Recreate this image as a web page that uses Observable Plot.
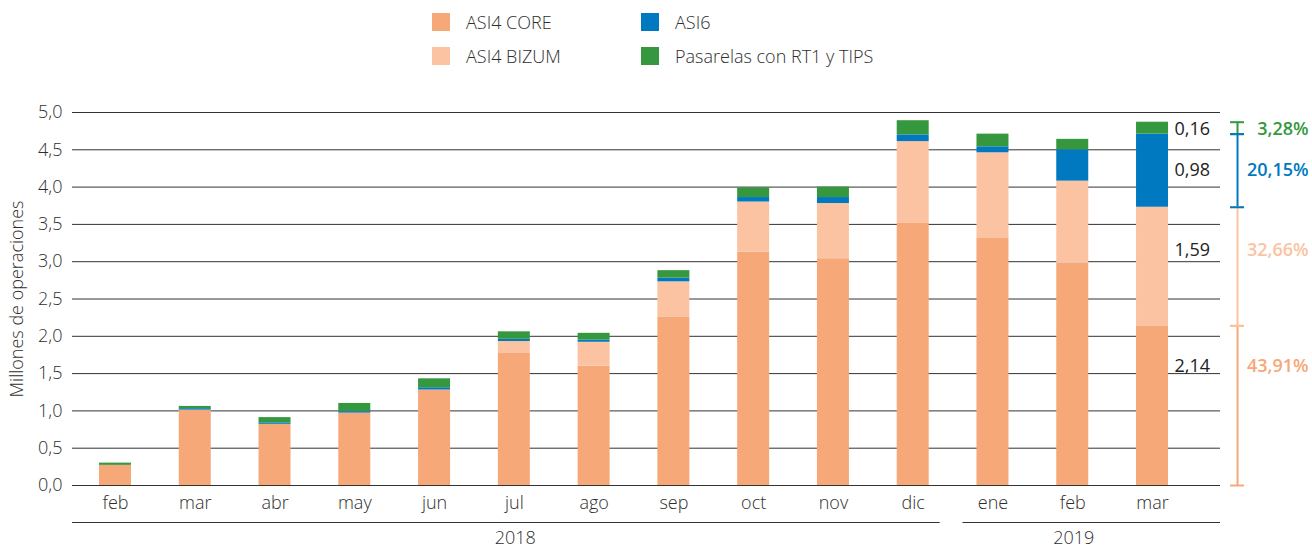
<!DOCTYPE html>
<html><head><meta charset="utf-8">
<script src="https://cdn.jsdelivr.net/npm/d3@7"></script>
<script src="https://cdn.jsdelivr.net/npm/@observablehq/plot@0.6"></script>
<style>
body{margin:0;background:#fff;font-family:"Open Sans",sans-serif;}
#wrap{position:relative;width:1312px;height:548px;overflow:hidden;}
#chart{position:absolute;left:0;top:0;}
#legend{position:absolute;left:432px;top:5px;display:grid;grid-template-rows:repeat(2,34px);grid-auto-flow:column;grid-template-columns:209px 280px;}
.item{display:flex;align-items:center;font-size:18px;color:#2e2e2e;font-weight:300;}
.sw{width:18px;height:18px;margin-right:16px;flex:none;}
</style></head><body>
<div id="wrap"><div id="chart"></div><div id="legend"></div></div>
<script>
const monthKeys = ["2018-02","2018-03","2018-04","2018-05","2018-06","2018-07","2018-08","2018-09","2018-10","2018-11","2018-12","2019-01","2019-02","2019-03"];
const monthLabels = ["feb","mar","abr","may","jun","jul","ago","sep","oct","nov","dic","ene","feb","mar"];
const years = ["2018","2019"];
const seriesNames = ["ASI4 CORE","ASI4 BIZUM","ASI6","Pasarelas con RT1 y TIPS"];
const seriesColors = ["#F6A878","#FBC3A1","#0079C1","#36983E"];
const asi4Core  = [0.27,1.01,0.82,0.97,1.28,1.77,1.60,2.26,3.13,3.04,3.52,3.32,2.98,2.14];
const asi4Bizum = [0.00,0.00,0.00,0.00,0.00,0.16,0.32,0.47,0.67,0.74,1.09,1.14,1.10,1.59];
const asi6      = [0.00,0.02,0.02,0.02,0.03,0.03,0.03,0.05,0.06,0.08,0.09,0.08,0.42,0.98];
const pasarelas = [0.03,0.03,0.07,0.11,0.12,0.10,0.09,0.10,0.13,0.14,0.19,0.17,0.14,0.16];
const lastPercent = ["43,91%","32,66%","20,15%","3,28%"];

const seriesArrays = [asi4Core, asi4Bizum, asi6, pasarelas];
const data = [];
monthKeys.forEach((m, i) => seriesArrays.forEach((arr, s) => data.push({month: m, series: seriesNames[s], value: arr[i]})));

const esLocale = d3.formatLocale({decimal: ",", thousands: ".", grouping: [3], currency: ["", " €"]});
const fmt1 = esLocale.format(".1f");
const fmt2 = esLocale.format(".2f");

const lastKey = monthKeys[monthKeys.length - 1];
const lastIdx = monthKeys.length - 1;
const labelFrac = [0.75, 0.64, 0.5, 0.4];
let cum = 0;
const segs = seriesNames.map((name, s) => {
  const v = seriesArrays[s][lastIdx];
  const y1 = cum; cum += v;
  return {series: name, y1, y2: cum, value: v, pct: lastPercent[s], ly: y1 + labelFrac[s] * v};
});
const capOrder = [0, 1, 3, 2];
const caps = [];
capOrder.forEach(s => { caps.push({series: segs[s].series, y: segs[s].y1}); caps.push({series: segs[s].series, y: segs[s].y2}); });

const yearGroups = years.map(y => {
  const ks = monthKeys.filter(k => k.startsWith(y));
  return {year: y, first: ks[0], last: ks[ks.length - 1], mid: ks[Math.floor((ks.length - 1) / 2)]};
});

const plot = Plot.plot({
  width: 1312, height: 548,
  marginTop: 112, marginBottom: 63, marginLeft: 72, marginRight: 92,
  style: {fontFamily: "'Open Sans', sans-serif", fontSize: "18px", fontWeight: 300, color: "#2e2e2e", background: "transparent"},
  x: {domain: monthKeys, range: [51.2, 1215.8], padding: 0.599, round: false},
  y: {domain: [0, 5]},
  color: {domain: seriesNames, range: seriesColors},
  marks: [
    Plot.ruleY(d3.ticks(0, 5, 10), {stroke: "#333", strokeWidth: 1}),
    Plot.barY(data, {x: "month", y: "value", fill: "series"}),
    Plot.axisY({ticks: 10, tickSize: 0, tickPadding: 10, tickFormat: fmt1, label: "Millones de operaciones", labelAnchor: "center", labelOffset: 62, labelArrow: "none", fontSize: 18}),
    Plot.axisX({tickSize: 0, tickPadding: 11, tickFormat: d => monthLabels[monthKeys.indexOf(d)], label: null, fontSize: 18}),
    Plot.ruleY([yearGroups[0]], {y: () => 0, x1: "first", x2: "last", dy: 37, insetLeft: -27, insetRight: -11, stroke: "#333", strokeWidth: 1.2}),
    Plot.ruleY([yearGroups[1]], {y: () => 0, x1: "first", x2: "last", dy: 37, insetLeft: -14, insetRight: -52, stroke: "#333", strokeWidth: 1.2}),
    Plot.text(yearGroups, {x: "mid", y: () => 0, text: "year", dy: 53, dx: 1, fill: "#2e2e2e", fontSize: 18}),
    Plot.ruleX(segs, {x: () => lastKey, y1: "y1", y2: "y2", stroke: "series", dx: 85, strokeWidth: 2}),
    Plot.tickY(caps, {x: () => lastKey, y: "y", stroke: "series", dx: 85, insetLeft: 9, insetRight: 9, strokeWidth: 2}),
    Plot.text(segs, {x: () => lastKey, y: "ly", text: d => fmt2(d.value), dx: 22, textAnchor: "start", fill: "#222", fontSize: 18, fontWeight: 400}),
    Plot.text(segs, {x: () => lastKey, y: "ly", text: "pct", dx: 156, textAnchor: "end", fill: "series", fontSize: 18, fontWeight: 600})
  ]
});
document.getElementById("chart").appendChild(plot);

const legend = document.getElementById("legend");
seriesNames.forEach((n, i) => {
  const it = document.createElement("div"); it.className = "item";
  const sw = document.createElement("span"); sw.className = "sw"; sw.style.background = seriesColors[i];
  it.appendChild(sw); it.appendChild(document.createTextNode(n));
  legend.appendChild(it);
});
</script>
</body></html>
